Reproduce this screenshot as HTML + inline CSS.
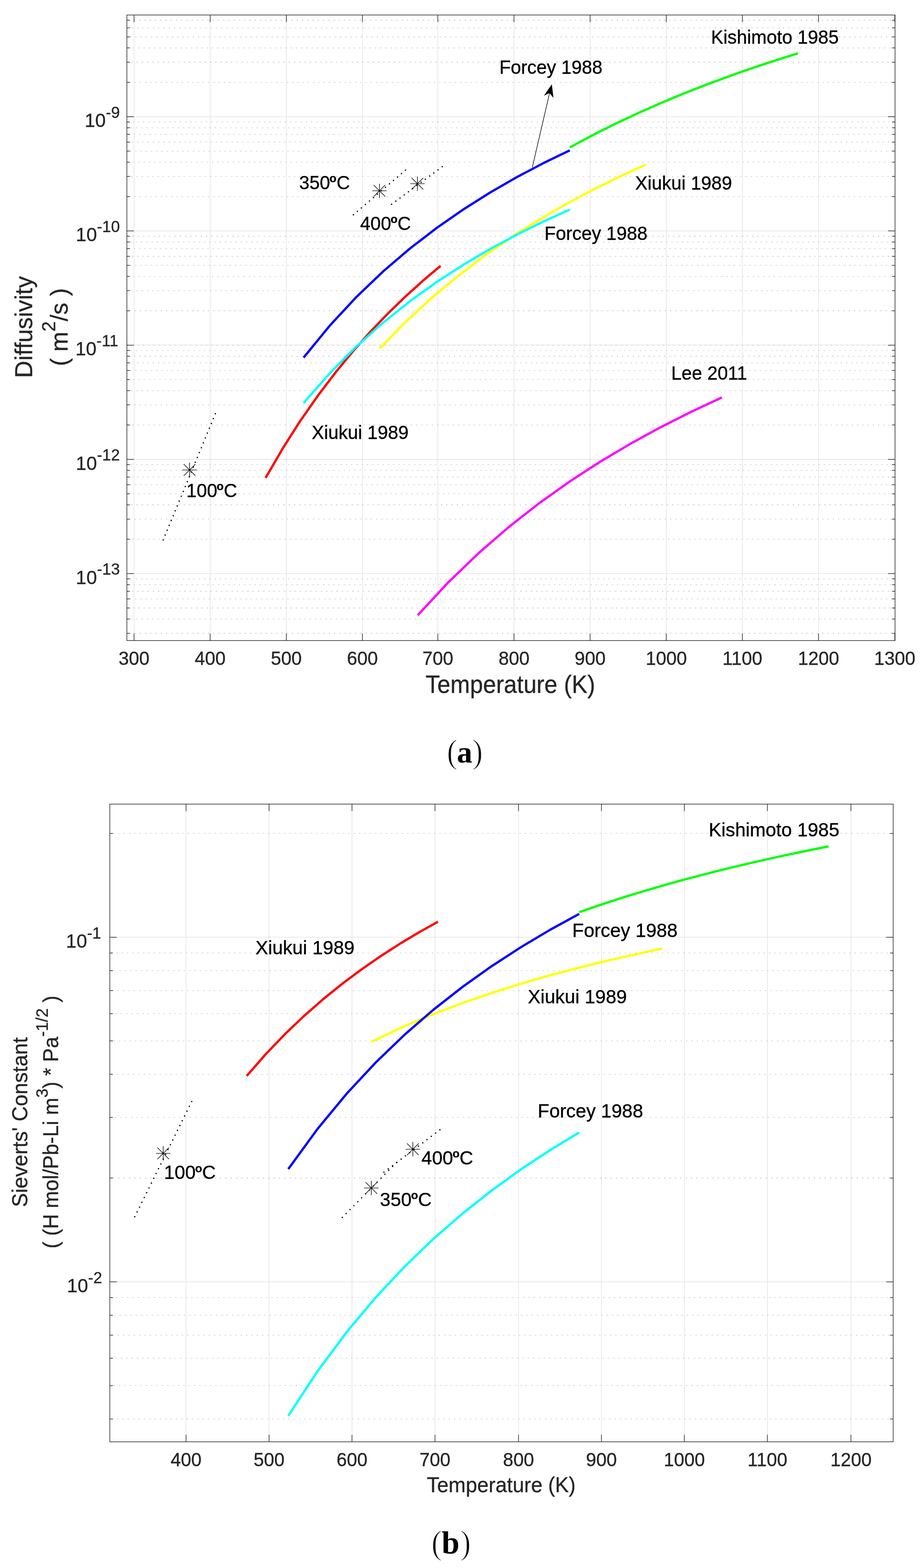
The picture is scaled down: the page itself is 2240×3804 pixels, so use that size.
<!DOCTYPE html>
<html><head><meta charset="utf-8"><title>Diffusivity and Sieverts constant</title><style>html,body{margin:0;padding:0;background:#fff;}svg{display:block;}</style></head><body>
<svg width="2240" height="3804" viewBox="0 0 2240 3804" font-family="'Liberation Sans', Arial, Helvetica, sans-serif">
<rect width="2240" height="3804" fill="#fff"/>
<line x1="325.36" y1="36.4" x2="325.36" y2="1554" stroke="#dedede" stroke-width="1.3"/>
<line x1="510.06" y1="36.4" x2="510.06" y2="1554" stroke="#dedede" stroke-width="1.3"/>
<line x1="694.86" y1="36.4" x2="694.86" y2="1554" stroke="#dedede" stroke-width="1.3"/>
<line x1="879.51" y1="36.4" x2="879.51" y2="1554" stroke="#dedede" stroke-width="1.3"/>
<line x1="1062.55" y1="36.4" x2="1062.55" y2="1554" stroke="#dedede" stroke-width="1.3"/>
<line x1="1247.45" y1="36.4" x2="1247.45" y2="1554" stroke="#dedede" stroke-width="1.3"/>
<line x1="1432.15" y1="36.4" x2="1432.15" y2="1554" stroke="#dedede" stroke-width="1.3"/>
<line x1="1616.96" y1="36.4" x2="1616.96" y2="1554" stroke="#dedede" stroke-width="1.3"/>
<line x1="1801.58" y1="36.4" x2="1801.58" y2="1554" stroke="#dedede" stroke-width="1.3"/>
<line x1="1986.46" y1="36.4" x2="1986.46" y2="1554" stroke="#dedede" stroke-width="1.3"/>
<line x1="307.9" y1="1536.49" x2="2172.2" y2="1536.49" stroke="#b8b8b8" stroke-width="1.3" stroke-dasharray="3.2 9.542" stroke-dashoffset="7.19"/>
<line x1="307.9" y1="1501.87" x2="2172.2" y2="1501.87" stroke="#b8b8b8" stroke-width="1.3" stroke-dasharray="3.2 9.542" stroke-dashoffset="2.40"/>
<line x1="307.9" y1="1475.02" x2="2172.2" y2="1475.02" stroke="#b8b8b8" stroke-width="1.3" stroke-dasharray="3.2 9.542" stroke-dashoffset="10.36"/>
<line x1="307.9" y1="1453.07" x2="2172.2" y2="1453.07" stroke="#b8b8b8" stroke-width="1.3" stroke-dasharray="3.2 9.542" stroke-dashoffset="5.58"/>
<line x1="307.9" y1="1434.52" x2="2172.2" y2="1434.52" stroke="#b8b8b8" stroke-width="1.3" stroke-dasharray="3.2 9.542" stroke-dashoffset="0.80"/>
<line x1="307.9" y1="1418.45" x2="2172.2" y2="1418.45" stroke="#b8b8b8" stroke-width="1.3" stroke-dasharray="3.2 9.542" stroke-dashoffset="8.76"/>
<line x1="307.9" y1="1404.28" x2="2172.2" y2="1404.28" stroke="#b8b8b8" stroke-width="1.3" stroke-dasharray="3.2 9.542" stroke-dashoffset="3.98"/>
<line x1="307.9" y1="1391.6" x2="2172.2" y2="1391.6" stroke="#dedede" stroke-width="1.3"/>
<line x1="307.9" y1="1308.18" x2="2172.2" y2="1308.18" stroke="#b8b8b8" stroke-width="1.3" stroke-dasharray="3.2 9.542" stroke-dashoffset="11.94"/>
<line x1="307.9" y1="1259.39" x2="2172.2" y2="1259.39" stroke="#b8b8b8" stroke-width="1.3" stroke-dasharray="3.2 9.542" stroke-dashoffset="7.15"/>
<line x1="307.9" y1="1224.77" x2="2172.2" y2="1224.77" stroke="#b8b8b8" stroke-width="1.3" stroke-dasharray="3.2 9.542" stroke-dashoffset="2.37"/>
<line x1="307.9" y1="1197.92" x2="2172.2" y2="1197.92" stroke="#b8b8b8" stroke-width="1.3" stroke-dasharray="3.2 9.542" stroke-dashoffset="10.33"/>
<line x1="307.9" y1="1175.97" x2="2172.2" y2="1175.97" stroke="#b8b8b8" stroke-width="1.3" stroke-dasharray="3.2 9.542" stroke-dashoffset="5.55"/>
<line x1="307.9" y1="1157.42" x2="2172.2" y2="1157.42" stroke="#b8b8b8" stroke-width="1.3" stroke-dasharray="3.2 9.542" stroke-dashoffset="0.76"/>
<line x1="307.9" y1="1141.35" x2="2172.2" y2="1141.35" stroke="#b8b8b8" stroke-width="1.3" stroke-dasharray="3.2 9.542" stroke-dashoffset="8.72"/>
<line x1="307.9" y1="1127.18" x2="2172.2" y2="1127.18" stroke="#b8b8b8" stroke-width="1.3" stroke-dasharray="3.2 9.542" stroke-dashoffset="3.94"/>
<line x1="307.9" y1="1114.5" x2="2172.2" y2="1114.5" stroke="#dedede" stroke-width="1.3"/>
<line x1="307.9" y1="1031.08" x2="2172.2" y2="1031.08" stroke="#b8b8b8" stroke-width="1.3" stroke-dasharray="3.2 9.542" stroke-dashoffset="11.90"/>
<line x1="307.9" y1="982.29" x2="2172.2" y2="982.29" stroke="#b8b8b8" stroke-width="1.3" stroke-dasharray="3.2 9.542" stroke-dashoffset="7.12"/>
<line x1="307.9" y1="947.67" x2="2172.2" y2="947.67" stroke="#b8b8b8" stroke-width="1.3" stroke-dasharray="3.2 9.542" stroke-dashoffset="2.34"/>
<line x1="307.9" y1="920.82" x2="2172.2" y2="920.82" stroke="#b8b8b8" stroke-width="1.3" stroke-dasharray="3.2 9.542" stroke-dashoffset="10.30"/>
<line x1="307.9" y1="898.87" x2="2172.2" y2="898.87" stroke="#b8b8b8" stroke-width="1.3" stroke-dasharray="3.2 9.542" stroke-dashoffset="5.51"/>
<line x1="307.9" y1="880.32" x2="2172.2" y2="880.32" stroke="#b8b8b8" stroke-width="1.3" stroke-dasharray="3.2 9.542" stroke-dashoffset="0.73"/>
<line x1="307.9" y1="864.25" x2="2172.2" y2="864.25" stroke="#b8b8b8" stroke-width="1.3" stroke-dasharray="3.2 9.542" stroke-dashoffset="8.69"/>
<line x1="307.9" y1="850.08" x2="2172.2" y2="850.08" stroke="#b8b8b8" stroke-width="1.3" stroke-dasharray="3.2 9.542" stroke-dashoffset="3.91"/>
<line x1="307.9" y1="837.4" x2="2172.2" y2="837.4" stroke="#dedede" stroke-width="1.3"/>
<line x1="307.9" y1="837.4" x2="2172.2" y2="837.4" stroke="#b8b8b8" stroke-width="1.3" stroke-dasharray="3.2 9.542" stroke-dashoffset="11.87"/>
<line x1="307.9" y1="753.98" x2="2172.2" y2="753.98" stroke="#b8b8b8" stroke-width="1.3" stroke-dasharray="3.2 9.542" stroke-dashoffset="7.09"/>
<line x1="307.9" y1="705.19" x2="2172.2" y2="705.19" stroke="#b8b8b8" stroke-width="1.3" stroke-dasharray="3.2 9.542" stroke-dashoffset="2.30"/>
<line x1="307.9" y1="670.57" x2="2172.2" y2="670.57" stroke="#b8b8b8" stroke-width="1.3" stroke-dasharray="3.2 9.542" stroke-dashoffset="10.26"/>
<line x1="307.9" y1="643.72" x2="2172.2" y2="643.72" stroke="#b8b8b8" stroke-width="1.3" stroke-dasharray="3.2 9.542" stroke-dashoffset="5.48"/>
<line x1="307.9" y1="621.77" x2="2172.2" y2="621.77" stroke="#b8b8b8" stroke-width="1.3" stroke-dasharray="3.2 9.542" stroke-dashoffset="0.70"/>
<line x1="307.9" y1="603.22" x2="2172.2" y2="603.22" stroke="#b8b8b8" stroke-width="1.3" stroke-dasharray="3.2 9.542" stroke-dashoffset="8.66"/>
<line x1="307.9" y1="587.15" x2="2172.2" y2="587.15" stroke="#b8b8b8" stroke-width="1.3" stroke-dasharray="3.2 9.542" stroke-dashoffset="3.87"/>
<line x1="307.9" y1="572.98" x2="2172.2" y2="572.98" stroke="#b8b8b8" stroke-width="1.3" stroke-dasharray="3.2 9.542" stroke-dashoffset="11.83"/>
<line x1="307.9" y1="560.3" x2="2172.2" y2="560.3" stroke="#dedede" stroke-width="1.3"/>
<line x1="307.9" y1="476.88" x2="2172.2" y2="476.88" stroke="#b8b8b8" stroke-width="1.3" stroke-dasharray="3.2 9.542" stroke-dashoffset="7.05"/>
<line x1="307.9" y1="428.09" x2="2172.2" y2="428.09" stroke="#b8b8b8" stroke-width="1.3" stroke-dasharray="3.2 9.542" stroke-dashoffset="2.27"/>
<line x1="307.9" y1="393.47" x2="2172.2" y2="393.47" stroke="#b8b8b8" stroke-width="1.3" stroke-dasharray="3.2 9.542" stroke-dashoffset="10.23"/>
<line x1="307.9" y1="366.62" x2="2172.2" y2="366.62" stroke="#b8b8b8" stroke-width="1.3" stroke-dasharray="3.2 9.542" stroke-dashoffset="5.45"/>
<line x1="307.9" y1="344.67" x2="2172.2" y2="344.67" stroke="#b8b8b8" stroke-width="1.3" stroke-dasharray="3.2 9.542" stroke-dashoffset="0.66"/>
<line x1="307.9" y1="326.12" x2="2172.2" y2="326.12" stroke="#b8b8b8" stroke-width="1.3" stroke-dasharray="3.2 9.542" stroke-dashoffset="8.62"/>
<line x1="307.9" y1="310.05" x2="2172.2" y2="310.05" stroke="#b8b8b8" stroke-width="1.3" stroke-dasharray="3.2 9.542" stroke-dashoffset="3.84"/>
<line x1="307.9" y1="295.88" x2="2172.2" y2="295.88" stroke="#b8b8b8" stroke-width="1.3" stroke-dasharray="3.2 9.542" stroke-dashoffset="11.80"/>
<line x1="307.9" y1="283.2" x2="2172.2" y2="283.2" stroke="#dedede" stroke-width="1.3"/>
<line x1="307.9" y1="199.78" x2="2172.2" y2="199.78" stroke="#b8b8b8" stroke-width="1.3" stroke-dasharray="3.2 9.542" stroke-dashoffset="7.02"/>
<line x1="307.9" y1="150.99" x2="2172.2" y2="150.99" stroke="#b8b8b8" stroke-width="1.3" stroke-dasharray="3.2 9.542" stroke-dashoffset="2.23"/>
<line x1="307.9" y1="116.37" x2="2172.2" y2="116.37" stroke="#b8b8b8" stroke-width="1.3" stroke-dasharray="3.2 9.542" stroke-dashoffset="10.19"/>
<line x1="307.9" y1="89.52" x2="2172.2" y2="89.52" stroke="#b8b8b8" stroke-width="1.3" stroke-dasharray="3.2 9.542" stroke-dashoffset="5.41"/>
<line x1="307.9" y1="67.57" x2="2172.2" y2="67.57" stroke="#b8b8b8" stroke-width="1.3" stroke-dasharray="3.2 9.542" stroke-dashoffset="0.63"/>
<line x1="307.9" y1="49.02" x2="2172.2" y2="49.02" stroke="#b8b8b8" stroke-width="1.3" stroke-dasharray="3.2 9.542" stroke-dashoffset="8.59"/>
<path d="M325.36 1554v-17M325.36 36.4v17M510.06 1554v-17M510.06 36.4v17M694.86 1554v-17M694.86 36.4v17M879.51 1554v-17M879.51 36.4v17M1062.55 1554v-17M1062.55 36.4v17M1247.45 1554v-17M1247.45 36.4v17M1432.15 1554v-17M1432.15 36.4v17M1616.96 1554v-17M1616.96 36.4v17M1801.58 1554v-17M1801.58 36.4v17M1986.46 1554v-17M1986.46 36.4v17M2171.6 1554v-17M2171.6 36.4v17M307.9 1536.49h7.5M2172.2 1536.49h-7.5M307.9 1501.87h7.5M2172.2 1501.87h-7.5M307.9 1475.02h7.5M2172.2 1475.02h-7.5M307.9 1453.07h7.5M2172.2 1453.07h-7.5M307.9 1434.52h7.5M2172.2 1434.52h-7.5M307.9 1418.45h7.5M2172.2 1418.45h-7.5M307.9 1404.28h7.5M2172.2 1404.28h-7.5M307.9 1391.6h17M2172.2 1391.6h-17M307.9 1308.18h7.5M2172.2 1308.18h-7.5M307.9 1259.39h7.5M2172.2 1259.39h-7.5M307.9 1224.77h7.5M2172.2 1224.77h-7.5M307.9 1197.92h7.5M2172.2 1197.92h-7.5M307.9 1175.97h7.5M2172.2 1175.97h-7.5M307.9 1157.42h7.5M2172.2 1157.42h-7.5M307.9 1141.35h7.5M2172.2 1141.35h-7.5M307.9 1127.18h7.5M2172.2 1127.18h-7.5M307.9 1114.5h17M2172.2 1114.5h-17M307.9 1031.08h7.5M2172.2 1031.08h-7.5M307.9 982.29h7.5M2172.2 982.29h-7.5M307.9 947.67h7.5M2172.2 947.67h-7.5M307.9 920.82h7.5M2172.2 920.82h-7.5M307.9 898.87h7.5M2172.2 898.87h-7.5M307.9 880.32h7.5M2172.2 880.32h-7.5M307.9 864.25h7.5M2172.2 864.25h-7.5M307.9 850.08h7.5M2172.2 850.08h-7.5M307.9 837.4h17M2172.2 837.4h-17M307.9 753.98h7.5M2172.2 753.98h-7.5M307.9 705.19h7.5M2172.2 705.19h-7.5M307.9 670.57h7.5M2172.2 670.57h-7.5M307.9 643.72h7.5M2172.2 643.72h-7.5M307.9 621.77h7.5M2172.2 621.77h-7.5M307.9 603.22h7.5M2172.2 603.22h-7.5M307.9 587.15h7.5M2172.2 587.15h-7.5M307.9 572.98h7.5M2172.2 572.98h-7.5M307.9 560.3h17M2172.2 560.3h-17M307.9 476.88h7.5M2172.2 476.88h-7.5M307.9 428.09h7.5M2172.2 428.09h-7.5M307.9 393.47h7.5M2172.2 393.47h-7.5M307.9 366.62h7.5M2172.2 366.62h-7.5M307.9 344.67h7.5M2172.2 344.67h-7.5M307.9 326.12h7.5M2172.2 326.12h-7.5M307.9 310.05h7.5M2172.2 310.05h-7.5M307.9 295.88h7.5M2172.2 295.88h-7.5M307.9 283.2h17M2172.2 283.2h-17M307.9 199.78h7.5M2172.2 199.78h-7.5M307.9 150.99h7.5M2172.2 150.99h-7.5M307.9 116.37h7.5M2172.2 116.37h-7.5M307.9 89.52h7.5M2172.2 89.52h-7.5M307.9 67.57h7.5M2172.2 67.57h-7.5M307.9 49.02h7.5M2172.2 49.02h-7.5" stroke="#262626" stroke-width="1.5" fill="none"/>
<rect x="307.9" y="36.4" width="1864.3" height="1517.6" fill="none" stroke="#262626" stroke-width="1.5"/>
<text stroke="#262626" stroke-width="0.45" transform="translate(325.36,1613) scale(1,1.02)" font-size="45" fill="#262626" text-anchor="middle">300</text>
<text stroke="#262626" stroke-width="0.45" transform="translate(510.06,1613) scale(1,1.02)" font-size="45" fill="#262626" text-anchor="middle">400</text>
<text stroke="#262626" stroke-width="0.45" transform="translate(694.86,1613) scale(1,1.02)" font-size="45" fill="#262626" text-anchor="middle">500</text>
<text stroke="#262626" stroke-width="0.45" transform="translate(879.51,1613) scale(1,1.02)" font-size="45" fill="#262626" text-anchor="middle">600</text>
<text stroke="#262626" stroke-width="0.45" transform="translate(1062.55,1613) scale(1,1.02)" font-size="45" fill="#262626" text-anchor="middle">700</text>
<text stroke="#262626" stroke-width="0.45" transform="translate(1247.45,1613) scale(1,1.02)" font-size="45" fill="#262626" text-anchor="middle">800</text>
<text stroke="#262626" stroke-width="0.45" transform="translate(1432.15,1613) scale(1,1.02)" font-size="45" fill="#262626" text-anchor="middle">900</text>
<text stroke="#262626" stroke-width="0.45" transform="translate(1616.96,1613) scale(1,1.02)" font-size="45" fill="#262626" text-anchor="middle">1000</text>
<text stroke="#262626" stroke-width="0.45" transform="translate(1801.58,1613) scale(1,1.02)" font-size="45" fill="#262626" text-anchor="middle">1100</text>
<text stroke="#262626" stroke-width="0.45" transform="translate(1986.46,1613) scale(1,1.02)" font-size="45" fill="#262626" text-anchor="middle">1200</text>
<text stroke="#262626" stroke-width="0.45" transform="translate(2171.6,1613) scale(1,1.02)" font-size="45" fill="#262626" text-anchor="middle">1300</text>
<text stroke="#262626" stroke-width="0.45" x="290.9" y="308.2" font-size="46" fill="#262626" text-anchor="end">10<tspan font-size="38.5" dy="-22.5">-9</tspan></text>
<text stroke="#262626" stroke-width="0.45" x="290.9" y="585.3" font-size="46" fill="#262626" text-anchor="end">10<tspan font-size="38.5" dy="-22.5">-10</tspan></text>
<text stroke="#262626" stroke-width="0.45" x="286.9" y="862.4" font-size="46" fill="#262626" text-anchor="end">10<tspan font-size="38.5" dy="-22.5">-11</tspan></text>
<text stroke="#262626" stroke-width="0.45" x="290.9" y="1139.5" font-size="46" fill="#262626" text-anchor="end">10<tspan font-size="38.5" dy="-22.5">-12</tspan></text>
<text stroke="#262626" stroke-width="0.45" x="290.9" y="1416.6" font-size="46" fill="#262626" text-anchor="end">10<tspan font-size="38.5" dy="-22.5">-13</tspan></text>
<text stroke="#262626" stroke-width="0.45" transform="translate(1238.7,1681) scale(1,1.065)" font-size="57" fill="#262626" text-anchor="middle">Temperature (K)</text>
<text stroke="#262626" stroke-width="0.45" transform="translate(77.6,793.4) rotate(-90) scale(1,1.02)" font-size="58" fill="#262626" text-anchor="middle">Diffusivity</text>
<text stroke="#262626" stroke-width="0.45" transform="translate(163.7,793.7) rotate(-90) scale(1,1.02)" font-size="58" fill="#262626" text-anchor="middle">( m<tspan font-size="45" dy="-29">2</tspan><tspan dy="29">/s )</tspan></text>
<polyline points="644.54,1159.4 686.99,1086.52 729.44,1020.1 771.89,959.32 814.34,903.48 856.78,852.02 899.23,804.43 941.68,760.29 984.13,719.24 1026.58,680.97 1069.03,645.2" fill="none" stroke="#ff0000" stroke-width="5.5" stroke-linejoin="round" stroke-linecap="butt"/>
<polyline points="921.38,845.4 985.98,779.43 1050.57,720.13 1115.17,666.53 1179.76,617.85 1244.36,573.44 1308.95,532.76 1373.55,495.36 1438.14,460.85 1502.74,428.93 1567.34,399.3" fill="none" stroke="#ffff00" stroke-width="5.5" stroke-linejoin="round" stroke-linecap="butt"/>
<polyline points="736.82,867.4 801.42,788.75 866.01,719.39 930.61,657.75 995.2,602.63 1059.8,553.03 1124.39,508.17 1188.99,467.4 1253.59,430.18 1318.18,396.07 1382.78,364.7" fill="none" stroke="#0000ff" stroke-width="5.5" stroke-linejoin="round" stroke-linecap="butt"/>
<polyline points="1382.78,357.7 1438.14,328.04 1493.51,300.29 1548.88,274.27 1604.25,249.83 1659.62,226.81 1714.98,205.11 1770.35,184.61 1825.72,165.21 1881.09,146.84 1936.45,129.4" fill="none" stroke="#00ff00" stroke-width="5.5" stroke-linejoin="round" stroke-linecap="butt"/>
<polyline points="736.82,977.7 801.42,904.29 866.01,839.55 930.61,782.03 995.2,730.57 1059.8,684.28 1124.39,642.41 1188.99,604.36 1253.59,569.62 1318.18,537.78 1382.78,508.5" fill="none" stroke="#00ffff" stroke-width="5.5" stroke-linejoin="round" stroke-linecap="butt"/>
<polyline points="1013.66,1492.7 1087.48,1413.18 1161.31,1342.11 1235.13,1278.21 1308.95,1220.44 1382.78,1167.97 1456.6,1120.1 1530.42,1076.25 1604.25,1035.92 1678.07,998.73 1751.89,964.3" fill="none" stroke="#ff00ff" stroke-width="5.5" stroke-linejoin="round" stroke-linecap="butt"/>
<line x1="857.7" y1="521.1" x2="984" y2="412.7" stroke="#000" stroke-width="3.3" stroke-linecap="round" stroke-dasharray="0.01 12.793"/>
<line x1="950.3" y1="495.6" x2="1073.3" y2="404.3" stroke="#000" stroke-width="3.3" stroke-linecap="round" stroke-dasharray="0.01 12.755"/>
<line x1="396" y1="1309.9" x2="522.7" y2="1003.7" stroke="#000" stroke-width="3.3" stroke-linecap="round" stroke-dasharray="0.01 12.735"/>
<path d="M903.4 462.9h35M920.9 445.4v35M906.7 448.7l28.4 28.4M906.7 477.1l28.4 -28.4" stroke="#000" stroke-width="1.4" fill="none"/>
<path d="M995.5 445.6h35M1013 428.1v35M998.8 431.4l28.4 28.4M998.8 459.8l28.4 -28.4" stroke="#000" stroke-width="1.4" fill="none"/>
<path d="M442.6 1140.1h35M460.1 1122.6v35M445.9 1125.9l28.4 28.4M445.9 1154.3l28.4 -28.4" stroke="#000" stroke-width="1.4" fill="none"/>
<line x1="1291.9" y1="406.2" x2="1333.7" y2="225.8" stroke="#000" stroke-width="1.4"/>
<path d="M1339.2 204.6L1320.0 232.2L1333.7 225.8L1343.2 237.4Z" fill="#000"/>
<text stroke="#000" stroke-width="0.45" transform="translate(1212,178.9) scale(1,1.02)" font-size="45" fill="#000" text-anchor="start">Forcey 1988</text>
<text stroke="#000" stroke-width="0.45" transform="translate(1725.5,106.2) scale(1,1.02)" font-size="45" fill="#000" text-anchor="start">Kishimoto 1985</text>
<text stroke="#000" stroke-width="0.45" transform="translate(1541.5,460) scale(1,1.02)" font-size="45" fill="#000" text-anchor="start">Xiukui 1989</text>
<text stroke="#000" stroke-width="0.45" transform="translate(1321.3,581.8) scale(1,1.02)" font-size="45" fill="#000" text-anchor="start">Forcey 1988</text>
<text stroke="#000" stroke-width="0.45" transform="translate(756.5,1064.5) scale(1,1.02)" font-size="45" fill="#000" text-anchor="start">Xiukui 1989</text>
<text stroke="#000" stroke-width="0.45" transform="translate(1629,921.1) scale(1,1.02)" font-size="45" fill="#000" text-anchor="start">Lee 2011</text>
<text stroke="#000" stroke-width="0.45" transform="translate(725.9,459) scale(1,1.02)" font-size="45" fill="#000">350<tspan font-size="28" font-weight="bold" dx="-1.4" dy="-16.3">o</tspan><tspan dy="16.3">C</tspan></text>
<text stroke="#000" stroke-width="0.45" transform="translate(874.1,557.9) scale(1,1.02)" font-size="45" fill="#000">400<tspan font-size="28" font-weight="bold" dx="-1.4" dy="-16.3">o</tspan><tspan dy="16.3">C</tspan></text>
<text stroke="#000" stroke-width="0.45" transform="translate(452.2,1206.1) scale(1,1.02)" font-size="45" fill="#000">100<tspan font-size="28" font-weight="bold" dx="-1.4" dy="-16.3">o</tspan><tspan dy="16.3">C</tspan></text>
<g font-family="'Liberation Serif', 'Times New Roman', serif" fill="#000"><text transform="translate(1084.5,1850.7) scale(1,1.072)" font-size="77" stroke="#fff" stroke-width="1.6">(</text><text x="1108.8" y="1849.6" font-size="75" font-weight="bold">a</text><text transform="translate(1145.9,1850.7) scale(1,1.072)" font-size="77" stroke="#fff" stroke-width="1.6">)</text></g>
<line x1="451.51" y1="1950.7" x2="451.51" y2="3497.8" stroke="#dedede" stroke-width="1.3"/>
<line x1="653" y1="1950.7" x2="653" y2="3497.8" stroke="#dedede" stroke-width="1.3"/>
<line x1="854.3" y1="1950.7" x2="854.3" y2="3497.8" stroke="#dedede" stroke-width="1.3"/>
<line x1="1055.6" y1="1950.7" x2="1055.6" y2="3497.8" stroke="#dedede" stroke-width="1.3"/>
<line x1="1258.4" y1="1950.7" x2="1258.4" y2="3497.8" stroke="#dedede" stroke-width="1.3"/>
<line x1="1459.6" y1="1950.7" x2="1459.6" y2="3497.8" stroke="#dedede" stroke-width="1.3"/>
<line x1="1660.7" y1="1950.7" x2="1660.7" y2="3497.8" stroke="#dedede" stroke-width="1.3"/>
<line x1="1862.4" y1="1950.7" x2="1862.4" y2="3497.8" stroke="#dedede" stroke-width="1.3"/>
<line x1="2065.2" y1="1950.7" x2="2065.2" y2="3497.8" stroke="#dedede" stroke-width="1.3"/>
<line x1="266.5" y1="3442.4" x2="2167.6" y2="3442.4" stroke="#b8b8b8" stroke-width="1.3" stroke-dasharray="3.2 9.785" stroke-dashoffset="8.56"/>
<line x1="266.5" y1="3361.38" x2="2167.6" y2="3361.38" stroke="#b8b8b8" stroke-width="1.3" stroke-dasharray="3.2 9.785" stroke-dashoffset="3.71"/>
<line x1="266.5" y1="3295.18" x2="2167.6" y2="3295.18" stroke="#b8b8b8" stroke-width="1.3" stroke-dasharray="3.2 9.785" stroke-dashoffset="11.84"/>
<line x1="266.5" y1="3239.21" x2="2167.6" y2="3239.21" stroke="#b8b8b8" stroke-width="1.3" stroke-dasharray="3.2 9.785" stroke-dashoffset="6.99"/>
<line x1="266.5" y1="3190.72" x2="2167.6" y2="3190.72" stroke="#b8b8b8" stroke-width="1.3" stroke-dasharray="3.2 9.785" stroke-dashoffset="2.15"/>
<line x1="266.5" y1="3147.96" x2="2167.6" y2="3147.96" stroke="#b8b8b8" stroke-width="1.3" stroke-dasharray="3.2 9.785" stroke-dashoffset="10.28"/>
<line x1="266.5" y1="3109.7" x2="2167.6" y2="3109.7" stroke="#dedede" stroke-width="1.3"/>
<line x1="266.5" y1="2858.02" x2="2167.6" y2="2858.02" stroke="#b8b8b8" stroke-width="1.3" stroke-dasharray="3.2 9.785" stroke-dashoffset="5.43"/>
<line x1="266.5" y1="2710.8" x2="2167.6" y2="2710.8" stroke="#b8b8b8" stroke-width="1.3" stroke-dasharray="3.2 9.785" stroke-dashoffset="0.58"/>
<line x1="266.5" y1="2606.35" x2="2167.6" y2="2606.35" stroke="#b8b8b8" stroke-width="1.3" stroke-dasharray="3.2 9.785" stroke-dashoffset="8.71"/>
<line x1="266.5" y1="2525.33" x2="2167.6" y2="2525.33" stroke="#b8b8b8" stroke-width="1.3" stroke-dasharray="3.2 9.785" stroke-dashoffset="3.87"/>
<line x1="266.5" y1="2459.13" x2="2167.6" y2="2459.13" stroke="#b8b8b8" stroke-width="1.3" stroke-dasharray="3.2 9.785" stroke-dashoffset="12.00"/>
<line x1="266.5" y1="2403.16" x2="2167.6" y2="2403.16" stroke="#b8b8b8" stroke-width="1.3" stroke-dasharray="3.2 9.785" stroke-dashoffset="7.15"/>
<line x1="266.5" y1="2354.67" x2="2167.6" y2="2354.67" stroke="#b8b8b8" stroke-width="1.3" stroke-dasharray="3.2 9.785" stroke-dashoffset="2.30"/>
<line x1="266.5" y1="2311.91" x2="2167.6" y2="2311.91" stroke="#b8b8b8" stroke-width="1.3" stroke-dasharray="3.2 9.785" stroke-dashoffset="10.43"/>
<line x1="266.5" y1="2273.65" x2="2167.6" y2="2273.65" stroke="#dedede" stroke-width="1.3"/>
<line x1="266.5" y1="2021.97" x2="2167.6" y2="2021.97" stroke="#b8b8b8" stroke-width="1.3" stroke-dasharray="3.2 9.785" stroke-dashoffset="5.58"/>
<path d="M451.51 3497.8v-17M451.51 1950.7v17M653 3497.8v-17M653 1950.7v17M854.3 3497.8v-17M854.3 1950.7v17M1055.6 3497.8v-17M1055.6 1950.7v17M1258.4 3497.8v-17M1258.4 1950.7v17M1459.6 3497.8v-17M1459.6 1950.7v17M1660.7 3497.8v-17M1660.7 1950.7v17M1862.4 3497.8v-17M1862.4 1950.7v17M2065.2 3497.8v-17M2065.2 1950.7v17M266.5 3442.4h7.5M2167.6 3442.4h-7.5M266.5 3361.38h7.5M2167.6 3361.38h-7.5M266.5 3295.18h7.5M2167.6 3295.18h-7.5M266.5 3239.21h7.5M2167.6 3239.21h-7.5M266.5 3190.72h7.5M2167.6 3190.72h-7.5M266.5 3147.96h7.5M2167.6 3147.96h-7.5M266.5 3109.7h17M2167.6 3109.7h-17M266.5 2858.02h7.5M2167.6 2858.02h-7.5M266.5 2710.8h7.5M2167.6 2710.8h-7.5M266.5 2606.35h7.5M2167.6 2606.35h-7.5M266.5 2525.33h7.5M2167.6 2525.33h-7.5M266.5 2459.13h7.5M2167.6 2459.13h-7.5M266.5 2403.16h7.5M2167.6 2403.16h-7.5M266.5 2354.67h7.5M2167.6 2354.67h-7.5M266.5 2311.91h7.5M2167.6 2311.91h-7.5M266.5 2273.65h17M2167.6 2273.65h-17M266.5 2021.97h7.5M2167.6 2021.97h-7.5" stroke="#262626" stroke-width="1.5" fill="none"/>
<rect x="266.5" y="1950.7" width="1901.1" height="1547.1" fill="none" stroke="#262626" stroke-width="1.5"/>
<text stroke="#262626" stroke-width="0.45" transform="translate(451.51,3557) scale(1,1.02)" font-size="45" fill="#262626" text-anchor="middle">400</text>
<text stroke="#262626" stroke-width="0.45" transform="translate(653,3557) scale(1,1.02)" font-size="45" fill="#262626" text-anchor="middle">500</text>
<text stroke="#262626" stroke-width="0.45" transform="translate(854.3,3557) scale(1,1.02)" font-size="45" fill="#262626" text-anchor="middle">600</text>
<text stroke="#262626" stroke-width="0.45" transform="translate(1055.6,3557) scale(1,1.02)" font-size="45" fill="#262626" text-anchor="middle">700</text>
<text stroke="#262626" stroke-width="0.45" transform="translate(1258.4,3557) scale(1,1.02)" font-size="45" fill="#262626" text-anchor="middle">800</text>
<text stroke="#262626" stroke-width="0.45" transform="translate(1459.6,3557) scale(1,1.02)" font-size="45" fill="#262626" text-anchor="middle">900</text>
<text stroke="#262626" stroke-width="0.45" transform="translate(1660.7,3557) scale(1,1.02)" font-size="45" fill="#262626" text-anchor="middle">1000</text>
<text stroke="#262626" stroke-width="0.45" transform="translate(1862.4,3557) scale(1,1.02)" font-size="45" fill="#262626" text-anchor="middle">1100</text>
<text stroke="#262626" stroke-width="0.45" transform="translate(2065.2,3557) scale(1,1.02)" font-size="45" fill="#262626" text-anchor="middle">1200</text>
<text stroke="#262626" stroke-width="0.45" x="245.5" y="2299.15" font-size="46" fill="#262626" text-anchor="end">10<tspan font-size="38.5" dy="-22.5">-1</tspan></text>
<text stroke="#262626" stroke-width="0.45" x="248" y="3135.2" font-size="46" fill="#262626" text-anchor="end">10<tspan font-size="38.5" dy="-22.5">-2</tspan></text>
<text stroke="#262626" stroke-width="0.45" transform="translate(1216.4,3619.5) scale(1,1.02)" font-size="50" fill="#262626" text-anchor="middle">Temperature (K)</text>
<text stroke="#262626" stroke-width="0.45" transform="translate(66.1,2722.5) rotate(-90) scale(1,1.02)" font-size="51" fill="#262626" text-anchor="middle">Sieverts' Constant</text>
<text stroke="#262626" stroke-width="0.45" transform="translate(140.7,2722.2) rotate(-90) scale(1,1.02)" font-size="50.3" fill="#262626" text-anchor="middle">( (H mol/Pb-Li m<tspan font-size="40" dy="-24">3</tspan><tspan dy="24">) * Pa</tspan><tspan font-size="40" dy="-24">-1/2</tspan><tspan dy="24"> )</tspan></text>
<polyline points="598.76,2610.2 645.15,2557.18 691.55,2508.85 737.94,2464.63 784.33,2424.01 830.73,2386.57 877.12,2351.94 923.51,2319.83 969.91,2289.97 1016.3,2262.12 1062.69,2236.1" fill="none" stroke="#ff0000" stroke-width="5.5" stroke-linejoin="round" stroke-linecap="butt"/>
<polyline points="901.33,2527.4 971.92,2493.97 1042.52,2463.91 1113.12,2436.74 1183.72,2412.07 1254.32,2389.56 1324.92,2368.94 1395.52,2349.98 1466.12,2332.5 1536.72,2316.32 1607.31,2301.3" fill="none" stroke="#ffff00" stroke-width="5.5" stroke-linejoin="round" stroke-linecap="butt"/>
<polyline points="699.61,2836.2 770.21,2739.34 840.81,2653.92 911.41,2578.01 982.01,2510.12 1052.61,2449.04 1123.21,2393.79 1193.81,2343.58 1264.41,2297.74 1335,2255.74 1405.6,2217.1" fill="none" stroke="#0000ff" stroke-width="5.5" stroke-linejoin="round" stroke-linecap="butt"/>
<polyline points="1405.6,2212.8 1466.12,2192.08 1526.63,2172.69 1587.14,2154.52 1647.66,2137.44 1708.17,2121.36 1768.68,2106.19 1829.2,2091.87 1889.71,2078.32 1950.22,2065.48 2010.74,2053.3" fill="none" stroke="#00ff00" stroke-width="5.5" stroke-linejoin="round" stroke-linecap="butt"/>
<polyline points="699.61,3434.7 770.21,3327.16 840.81,3232.31 911.41,3148.03 982.01,3072.65 1052.61,3004.83 1123.21,2943.49 1193.81,2887.73 1264.41,2836.84 1335,2790.2 1405.6,2747.3" fill="none" stroke="#00ffff" stroke-width="5.5" stroke-linejoin="round" stroke-linecap="butt"/>
<line x1="327" y1="2951.7" x2="465.3" y2="2672.4" stroke="#000" stroke-width="3.3" stroke-linecap="round" stroke-dasharray="0.01 12.976"/>
<line x1="830.7" y1="2953.5" x2="971.7" y2="2810.7" stroke="#000" stroke-width="3.3" stroke-linecap="round" stroke-dasharray="0.01 13.369"/>
<line x1="931.8" y1="2843.7" x2="1067.6" y2="2741" stroke="#000" stroke-width="3.3" stroke-linecap="round" stroke-dasharray="0.01 13.087"/>
<path d="M378.5 2798.1h35M396 2780.6v35M381.8 2783.9l28.4 28.4M381.8 2812.3l28.4 -28.4" stroke="#000" stroke-width="1.4" fill="none"/>
<path d="M883.7 2882.1h35M901.2 2864.6v35M887 2867.9l28.4 28.4M887 2896.3l28.4 -28.4" stroke="#000" stroke-width="1.4" fill="none"/>
<path d="M984.4 2788.1h35M1001.9 2770.6v35M987.7 2773.9l28.4 28.4M987.7 2802.3l28.4 -28.4" stroke="#000" stroke-width="1.4" fill="none"/>
<text stroke="#000" stroke-width="0.45" transform="translate(1720,2029) scale(1,1.02)" font-size="46" fill="#000" text-anchor="start">Kishimoto 1985</text>
<text stroke="#000" stroke-width="0.45" transform="translate(1388.8,2272.5) scale(1,1.02)" font-size="46" fill="#000" text-anchor="start">Forcey 1988</text>
<text stroke="#000" stroke-width="0.45" transform="translate(620,2315.3) scale(1,1.02)" font-size="46" fill="#000" text-anchor="start">Xiukui 1989</text>
<text stroke="#000" stroke-width="0.45" transform="translate(1281,2433.8) scale(1,1.02)" font-size="46" fill="#000" text-anchor="start">Xiukui 1989</text>
<text stroke="#000" stroke-width="0.45" transform="translate(1305.1,2710.9) scale(1,1.02)" font-size="46" fill="#000" text-anchor="start">Forcey 1988</text>
<text stroke="#000" stroke-width="0.45" transform="translate(398.1,2860.3) scale(1,1.02)" font-size="46" fill="#000">100<tspan font-size="28" font-weight="bold" dx="-1.4" dy="-16.3">o</tspan><tspan dy="16.3">C</tspan></text>
<text stroke="#000" stroke-width="0.45" transform="translate(922.1,2926.1) scale(1,1.02)" font-size="46" fill="#000">350<tspan font-size="28" font-weight="bold" dx="-1.4" dy="-16.3">o</tspan><tspan dy="16.3">C</tspan></text>
<text stroke="#000" stroke-width="0.45" transform="translate(1022.8,2824.5) scale(1,1.02)" font-size="46" fill="#000">400<tspan font-size="28" font-weight="bold" dx="-1.4" dy="-16.3">o</tspan><tspan dy="16.3">C</tspan></text>
<g font-family="'Liberation Serif', 'Times New Roman', serif" fill="#000"><text transform="translate(1046.9,3769.9) scale(1,1.072)" font-size="77" stroke="#fff" stroke-width="1.6">(</text><text x="1071.8" y="3769.4" font-size="78" font-weight="bold">b</text><text transform="translate(1117.1,3769.9) scale(1,1.072)" font-size="77" stroke="#fff" stroke-width="1.6">)</text></g>
</svg>
</body></html>
